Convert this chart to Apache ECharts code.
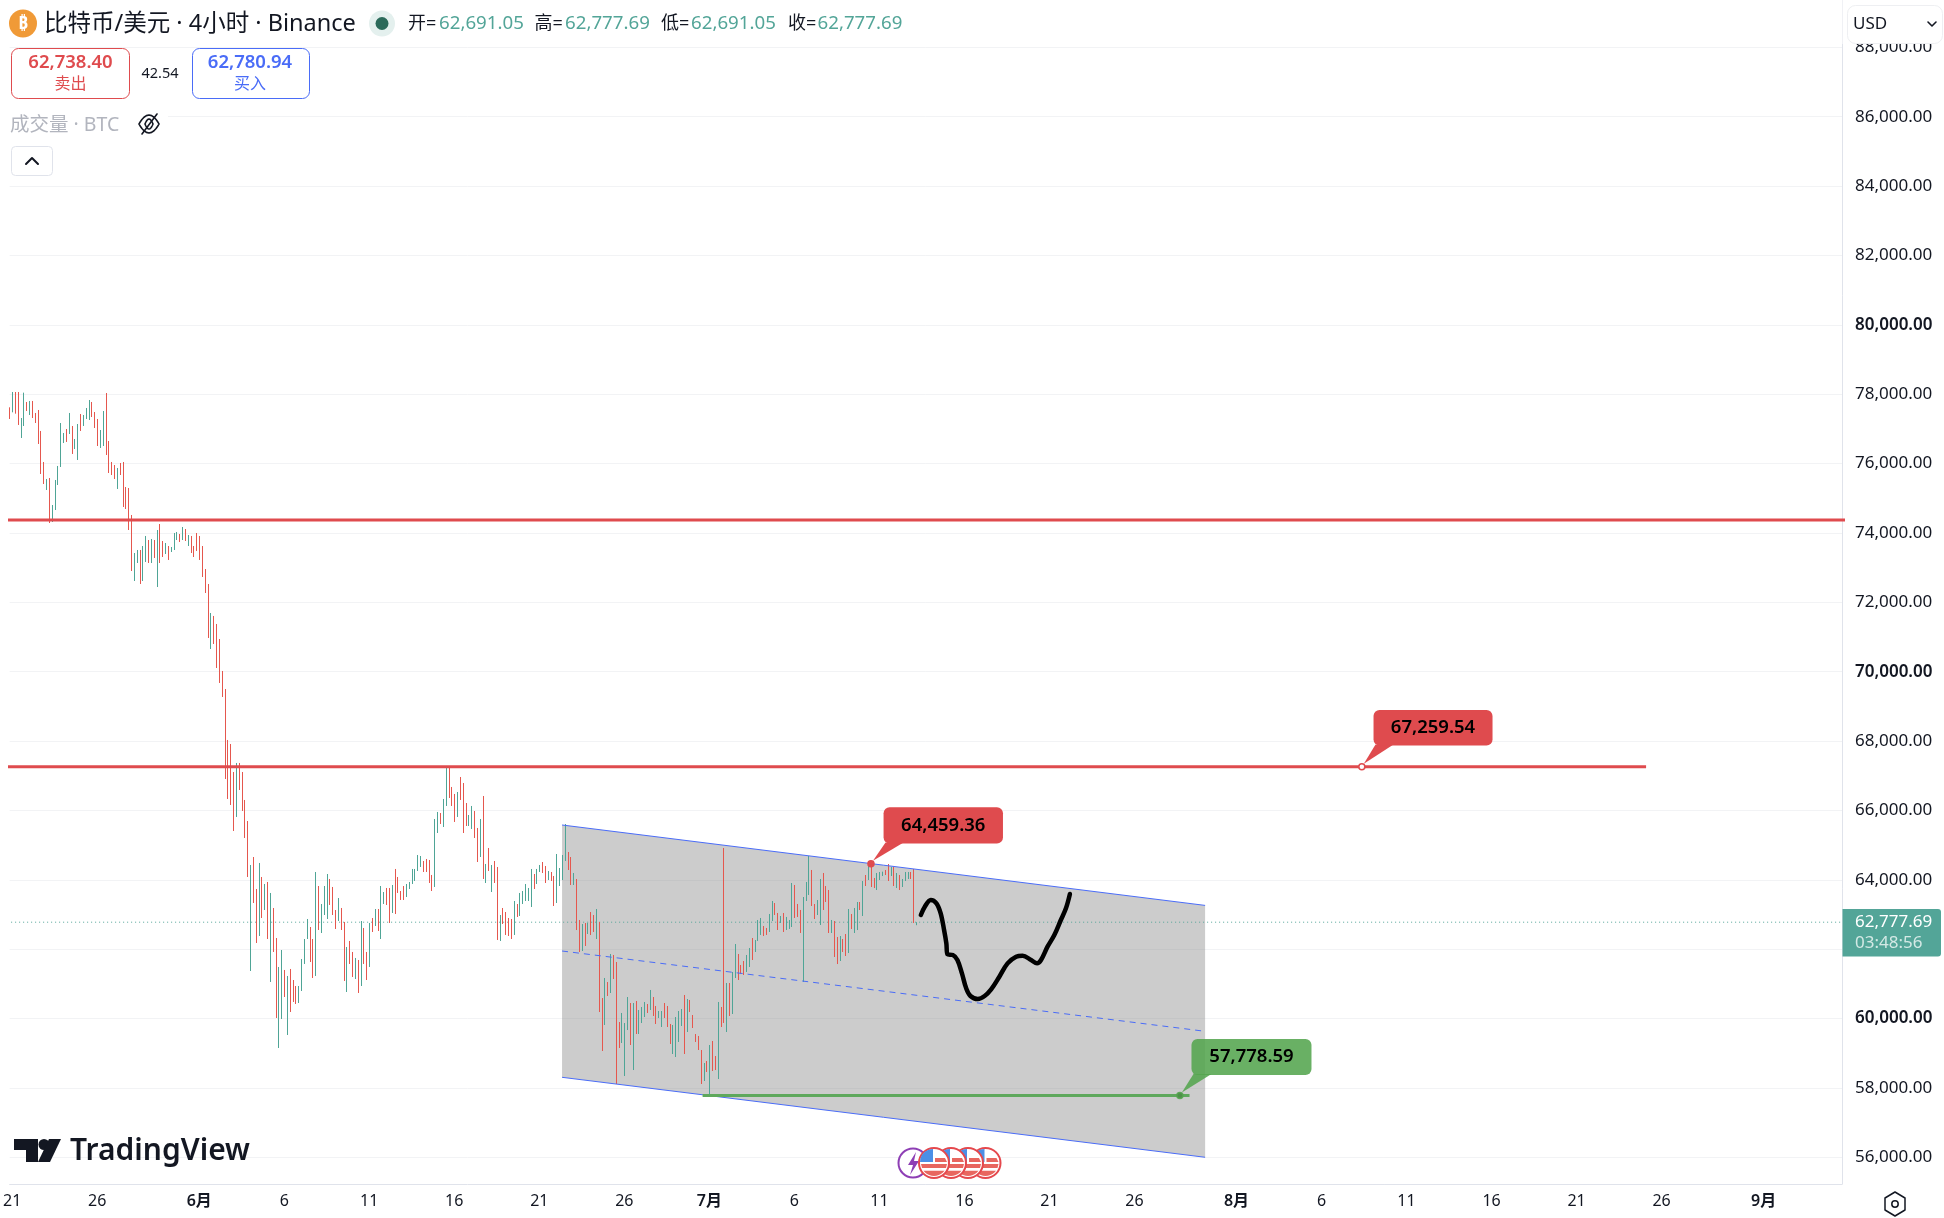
<!DOCTYPE html>
<html><head><meta charset="utf-8">
<style>html,body{margin:0;padding:0;background:#fff}#c{width:1944px;height:1218px}</style>
<script src="https://cdn.jsdelivr.net/npm/echarts@6/dist/echarts.min.js"></script>
</head><body><div id="c"></div>
<script>
// 4-hour bars, left to right
const highs=[77621,78063,78063,78063,77313,78044,77775,77804,77804,77458,77544,76939,76045,75555,75584,74805,75526,75930,77169,76881,76996,77458,77083,76708,77140,77429,77400,77602,77832,77775,77486,77285,76967,77515,78034,76650,76045,75958,75872,76016,76045,75324,75295,74517,73421,73508,73508,73623,73912,73796,73825,73796,74084,74257,73767,73710,73623,73594,73998,74027,73969,74171,74113,73940,73912,73623,73998,73912,73623,72960,72528,
71692,71606,71375,70942,70020,69501,68031,67915,67108,67368,67368,67108,66301,65695,64427,64657,63735,64485,64081,63879,63937,63620,63187,62322,61486,61976,61400,61227,61429,61111,60938,60938,61717,62293,62870,62639,62293,64225,63821,63302,63821,64167,64023,63793,63129,63475,63187,62784,62063,62236,61919,61746,61688,62812,62611,61919,62755,62899,63158,63158,63821,63648,63764,63764,63850,64312,64081,63677,63821,63879,63937,64312,64312,64715,64686,64542,64600,64571,64139,65753,65955,65926,66330,67240,67259,66676,66474,66531,66964,66791,66214,65868,66128,65984,65494,65753,66416,64456,64917,64427,64542,64369,62985,63187,63072,62899,62870,63389,63302,63620,63677,63879,63764,64312,64167,64312,64427,64513,64398,64254,64225,64110,
64744,64340,64715,65608,64801,64657,64196,64023,62841,62725,62754,62754,63071,62985,63158,62783,60592,61169,61053,61861,61832,61630,59900,60160,59871,60621,60448,60448,60506,60246,60333,60477,60419,60823,60621,60362,60217,60217,60448,60362,59843,59814,60044,60217,60275,60679,60563,60535,60102,59554,59497,59093,58718,58776,59237,59353,58920,60477,60333,64917,61025,61025,61342,62149,61861,61544,61659,61832,62034,62322,62264,
62841,62899,62668,62611,63014,63389,63331,63043,62957,63043,62928,62841,63908,63850,63303,63130,63504,63937,64686,64283,63302,63417,64023,64196,63821,63706,62841,62812,62351,62379,62293,62437,63158,63014,63187,63360,63360,63965,64138,64484,64459,64052,64196,64225,64234,64282,64455,64369,64369,64196,64138,64023,64225,64225,64225,64311,62778];
const lows=[77285,77477,77438,77112,76737,77083,77515,77400,77313,77169,76564,75699,75411,75238,74286,74315,74661,75382,75901,76593,76622,76852,76276,76420,76103,76939,77083,77285,77256,77342,77025,76506,76449,76506,76247,75728,75670,75555,75267,75670,74748,74690,74084,72902,72614,73133,72528,72614,73162,73133,73133,73277,72441,73133,73306,73393,73220,73450,73508,73796,73739,73796,73767,73623,73421,73306,73479,73220,72729,72268,70971,
70654,70798,70106,69674,69270,66906,66330,66157,65407,65811,66589,65984,65205,64081,61371,63331,62178,62380,62899,63129,62293,61054,61919,60016,59151,59987,60621,59526,60189,60477,60419,60448,60794,61573,62293,61630,61169,61227,62553,62466,62985,62870,63274,62985,62582,62812,62553,61083,60765,61573,61198,61140,60737,60938,61573,61111,61486,62495,62668,62524,62293,63302,63274,62755,63043,63014,63620,63418,63418,63504,63735,63879,63966,64254,64369,64225,64225,63908,63677,63793,65349,65609,65522,66128,66358,66128,65667,65811,66301,65349,65551,65551,65465,65205,64513,64657,64023,63908,64254,63648,63908,62265,62236,62726,62409,62380,62293,62409,62928,62957,63302,63389,63389,63216,63735,63879,64225,64196,63908,63994,63966,63245,
63331,63821,63994,64542,64282,63850,63850,62552,61918,61947,62091,62437,62408,62495,62293,60188,59064,59814,60650,60736,61140,58113,59151,59295,58343,59669,59237,58516,59554,59554,59871,60044,60160,60246,60073,59843,60016,59756,60016,59756,59266,58978,58891,59324,59785,58978,59612,60189,59727,59324,59093,58113,58199,58459,57779,58488,58516,58257,59756,59872,59612,60073,60131,61169,61111,61284,61255,61342,61486,61688,61918,
62236,62409,62380,62409,62495,62812,62985,62553,62755,62495,62553,62582,62639,62899,62928,62467,61054,63389,63562,63245,62870,62985,62697,63129,63360,62466,62466,61774,61572,61659,61918,61803,61889,62581,62466,62552,63129,62956,63821,63994,63792,63763,63706,63994,64109,64138,63965,64109,63821,63763,63706,63792,63965,64023,64023,62754,62691];
// r = falling bar, g = rising bar
const barSides=("rgrrggrgrr rrrgrggggg rgrggrgggr rrggrrrrgr rrrrggrggr grgrrgrggg rgrgrrrrrr r "+
"grrrrrrrr grrrrgrrgr grgrrggrgr rrggggrrgr gggrrrgrrg rrgrgrrgrg rggrrgrrrr ggggggrrrr ggrggrrrgr rrggrrgrgr grrgrrrrgr gggggrggrr "+
"grrggggrrg rrgrgrrgrr grgrrrgggr grgggrgrrg grrrggggrg rrrrrgrgrr grrgrggrrr ggrgggrrgg rrgrgggrrr gggrrggrrr grrgrrgrgg rgrgrrgggr rgrgrggg rr g").replace(/\s+/g,'').split('');
// overlays, x given in bar numbers
const hiResistance=[[-1,74373],[650,74373]];
const midResistance=[[-1,67259.54],[577.3,67259.54]];
const support=[[244.4,57778.59],[416.2,57778.59]];
const channelTop=[[194.8,65580],[421.7,63262]];
const channelMid=[[194.8,61947],[421.7,59632]];
const channelBottom=[[194.8,58306],[421.7,56000]];
const lastPrice=62777.69;
const sketch=[[321.4,62985],[322.8,63225],[324.9,63417],[326.9,63321],[328.4,63033],[329.6,62552],[330.4,62168],[330.8,61851],[332.7,61832],[334.3,61688],[335.9,61303],[337.4,60871],[338.9,60650],[341.5,60563],[343.9,60650],[346.2,60842],[349.1,61207],[352,61592],[355,61784],[357.3,61813],[360.3,61688],[362.4,61592],[363.8,61688],[366.1,62072],[368.5,62408],[370.8,62841],[372.6,63177],[374,63590]];
const callouts=[[477,67259.54,"67,259.54"],[303.8,64459.36,"64,459.36"],[412.8,57778.59,"57,778.59"]];
const xTickDates=["2026-05-21","2026-05-26","2026-06-01","2026-06-06","2026-06-11","2026-06-16","2026-06-21","2026-06-26","2026-07-01","2026-07-06","2026-07-11","2026-07-16","2026-07-21","2026-07-26","2026-08-01","2026-08-06","2026-08-11","2026-08-16","2026-08-21","2026-08-26","2026-09-01"];
const xTickLabels=["21","26","6月","6","11","16","21","26","7月","6","11","16","21","26","8月","6","11","16","21","26","9月"];
const yTicks=[56000,58000,60000,62000,64000,66000,68000,70000,72000,74000,76000,78000,80000,82000,84000,86000,88000];
const header={open:"62,691.05",high:"62,777.69",low:"62,691.05",close:"62,777.69",sell:"62,738.40",buy:"62,780.94",spread:"42.54"};

const H4=4*3600e3;
const barOfDate=d=>(Date.parse(d+'T00:00:00Z')-Date.UTC(2026,4,26))/H4+30.77;
const xMin=-0.116, xMax=xMin+1842/2.849;
const FONT='"Noto Sans","Noto Sans CJK SC",sans-serif';
const RED='#e5574e',GREEN='#4fa596',TEAL='#53a598',CALLRED='#df4b4e',BLUE='#4a6cf7';
const candles=highs.map((h,i)=>{const l=lows[i];const up=barSides[i]==='g';return [i,up?l:h,up?h:l,l,h];});
const xTickVals=xTickDates.map(barOfDate);
const txMap={};xTickVals.forEach((v,i)=>{txMap[v.toFixed(2)]=xTickLabels[i];});

function lineS(name,data,color,width,z,extra){return Object.assign({type:'line',name,data,symbol:'none',silent:true,animation:false,z,clip:true,lineStyle:{color,width}},extra||{});}

const t=(x,y,text,fill,size,o)=>({type:'text',z:50,silent:true,style:{x,y,text,fill,font:(o&&o.w||'400')+' '+size+'px '+FONT,textAlign:o&&o.a||'left',textVerticalAlign:'middle'}});
const rect=(x,y,w,h,fill,stroke,r)=>({type:'rect',z:48,silent:true,shape:{x,y,width:w,height:h,r:r||0},style:{fill,stroke:stroke||null,lineWidth:1}});
const poly=(pts,fill,z)=>({type:'polygon',z:z||49,silent:true,shape:{points:pts},style:{fill}});
const pline=(pts,stroke,lw,z)=>({type:'polyline',z:z||49,silent:true,shape:{points:pts},style:{fill:null,stroke,lineWidth:lw||1,lineCap:'round',lineJoin:'round'}});
const circ=(cx,cy,r,fill,stroke,lw,z)=>({type:'circle',z:z||49,silent:true,shape:{cx,cy,r},style:{fill,stroke:stroke||null,lineWidth:lw||1}});
function lens(cx,cy,rx,ry){const a=[];for(let k=0;k<=24;k++){const th=k/24*2*Math.PI;a.push([cx+rx*Math.cos(th),cy+ry*Math.sin(th)*Math.abs(Math.sin(th))]);}return a;}

function flag(cx,cy,z){const r=13;const low=[];for(let k=0;k<=10;k++){const a=Math.PI*(0.2+0.6*k/10);low.push([cx+r*Math.cos(a),cy+r*Math.sin(a)]);}
 return [
 circ(cx,cy,15,'#fff','#e5484d',2,z),
 {type:'sector',z:z+0.1,silent:true,shape:{cx:cx-1,cy:cy-1,r0:0,r:r,startAngle:Math.PI,endAngle:1.5*Math.PI},style:{fill:'#4c8fe6'}},
 poly([[cx+1,cy-5],[cx+r-2,cy-5],[cx+r,cy-1],[cx+1,cy-1]],'#e8665f',z+0.1),
 poly([[cx-r,cy+1],[cx+r,cy+1],[cx+r-1,cy+5],[cx-r+1,cy+5]],'#e8665f',z+0.1),
 poly(low,'#e8665f',z+0.1)
];}

const graphicEls=[
 rect(0,108,168,30,'#fff'),
 circ(23,23.5,14,'#f09a37'),
 t(23,24,'₿','#fff',17,{a:'center',w:'700'}),
 t(44,24,'比特币/美元 · 4小时 · Binance','#131722',23.5),
 circ(382,23.5,13,'#e4f0ee'),circ(382,23.5,6.5,'#2b6a5a'),
 t(408,24,'开=','#131722',18),t(439,24,header.open,TEAL,18.7),
 t(534.5,24,'高=','#131722',18),t(565,24,header.high,TEAL,18.7),
 t(661,24,'低=','#131722',18),t(691,24,header.low,TEAL,18.7),
 t(788,24,'收=','#131722',18),t(817.5,24,header.close,TEAL,18.7),
 rect(11.5,48.5,118,50,'#fff',CALLRED,7),
 t(70.5,63,header.sell,CALLRED,18.5,{a:'center',w:'600'}),
 t(70.5,84,'卖出',CALLRED,16,{a:'center'}),
 t(160,74,header.spread,'#131722',14.5,{a:'center'}),
 rect(192.5,48.5,117,50,'#fff',BLUE,7),
 t(250,63,header.buy,BLUE,18.5,{a:'center',w:'600'}),
 t(250,84,'买入',BLUE,16,{a:'center'}),
 t(10,125,'成交量 · BTC','#b2b5be',19.5),
 pline(lens(149,124,10,9),'#131722',1.6),
 pline(lens(149,124,4,5),'#131722',1.6),
 pline([[142,134],[157,114]],'#131722',1.6),
 rect(11.5,146.5,41,29,'#fff','#e0e3eb',4),
 pline([[26,164],[32,158],[38,164]],'#131722',2),
 rect(1842.5,0,101.5,44,'#fff'),
 rect(1847.5,5.5,95,38,'#fff','#eeeff2',8),
 t(1853,24,'USD','#131722',17),
 pline([[1928,22],[1932,26],[1936,22]],'#131722',1.6),
 pline([[1895,1192],[1905,1198],[1905,1210],[1895,1216],[1885,1210],[1885,1198],[1895,1192]],'#131722',1.5),
 circ(1895,1204,3.2,'#fff','#131722',1.5),
 poly([[14,1139],[38,1139],[38,1162],[26,1162],[26,1150],[14,1150]],'#131722'),
 circ(44,1144.5,5.5,'#131722'),
 poly([[49,1139],[61,1139],[50,1162],[38,1162]],'#131722'),
 t(70,1151,'TradingView','#131722',30,{w:'600'}),
 circ(913,1163,14.5,'#fff','#8e3fb5',2,44),
 poly([[916,1152],[908,1165],[913,1165],[910,1175],[919,1161],[914,1161]],'#8e3fb5',44.1)
].concat(flag(985.5,1163,45),flag(968,1163,45.3),flag(951,1163,45.6),flag(934,1163,46));

const option={
 animation:false,
 backgroundColor:'#fff',
 textStyle:{fontFamily:FONT},
 grid:{left:0,top:0,width:1842,height:1184,containLabel:false},
 xAxis:{type:'value',min:xMin,max:xMax,
  axisLine:{show:true,onZero:false,lineStyle:{color:'#e0e3eb',width:1}},
  axisTick:{show:false,customValues:xTickVals},
  splitLine:{show:false},
  axisLabel:{customValues:xTickVals,hideOverlap:false,showMinLabel:true,showMaxLabel:true,margin:9,color:'#131722',fontSize:16,fontFamily:FONT,
   formatter:v=>{const s=txMap[Number(v).toFixed(2)]||'';return s.indexOf('月')>=0?'{m|'+s+'}':s;},
   rich:{m:{fontWeight:600,fontSize:16,color:'#131722',fontFamily:FONT}}}},
 yAxis:{type:'value',position:'right',min:55230,max:89364,
  axisLine:{show:true,onZero:false,lineStyle:{color:'#e0e3eb',width:1}},
  axisTick:{show:false,customValues:yTicks},
  splitLine:{show:true,lineStyle:{color:'#f2f3f5',width:1}},
  axisLabel:{customValues:yTicks,inside:false,margin:13,color:'#131722',fontSize:17,fontFamily:FONT,
   formatter:v=>{const s=Number(v).toLocaleString('en-US',{minimumFractionDigits:2,maximumFractionDigits:2});return v%10000===0?'{b|'+s+'}':s;},
   rich:{b:{fontWeight:600,fontSize:17,color:'#131722',fontFamily:FONT}}}},
 series:[
  {type:'custom',name:'channel',silent:true,z:1,data:channelTop,
   encode:{x:0,y:1},
   renderItem:(p,api)=>{ if(p.dataIndex!==0) return null;
     const q=[channelTop[0],channelTop[1],channelBottom[1],channelBottom[0]].map(a=>api.coord(a));
     return {type:'polygon',shape:{points:q},style:{fill:'rgba(128,128,128,0.4)'}};}},
  {type:'candlestick',name:'BTC/USD',z:3,silent:true,animation:false,barWidth:1,data:candles,
   itemStyle:{color:GREEN,color0:RED,borderColor:GREEN,borderColor0:RED,borderWidth:1}},
  lineS('last',[[-1,lastPrice],[650,lastPrice]],TEAL,1,2,{lineStyle:{color:TEAL,width:1,type:[1,3]}}),
  lineS('r1',hiResistance,CALLRED,3,5),
  lineS('r2',midResistance,CALLRED,3,5),
  lineS('upper',channelTop,BLUE,1,5),
  lineS('mid',channelMid,BLUE,1,5,{lineStyle:{color:BLUE,width:1,type:[6,5]}}),
  lineS('lower',channelBottom,BLUE,1,5),
  lineS('support',support,'#5ea85c',3,6),
  lineS('sketch',sketch,'#000',4.5,7,{smooth:0.35,lineStyle:{color:'#000',width:4.5,cap:'round',join:'round'}}),
  {type:'custom',name:'callouts',silent:true,z:8,clip:false,data:callouts.map(c=>[c[0],c[1]]),encode:{x:0,y:1},
   renderItem:(p,api)=>{
     const c=api.coord([api.value(0),api.value(1)]);
     const lay=[{dx:11.7,dy:-56.8,w:119,h:35.5,fill:CALLRED,dot:'#fff'},{dx:12.6,dy:-56.7,w:119.4,h:36.3,fill:CALLRED,dot:CALLRED},{dx:11.6,dy:-56.6,w:120,h:36,fill:'rgba(84,165,78,0.88)',dot:'#4f8f4a'}][p.dataIndex];
     const bx=c[0]+lay.dx, by=c[1]+lay.dy;
     return {type:'group',children:[
       {type:'polygon',shape:{points:[[c[0]+2,c[1]-3],[bx+2,by+lay.h-1],[bx+20,by+lay.h-1]]},style:{fill:lay.fill}},
       {type:'rect',shape:{x:bx,y:by,width:lay.w,height:lay.h,r:6},style:{fill:lay.fill}},
       {type:'circle',shape:{cx:c[0],cy:c[1],r:3},style:{fill:lay.dot,stroke:lay.fill,lineWidth:1.5}},
       {type:'text',style:{x:bx+lay.w/2,y:by+lay.h/2,text:callouts[p.dataIndex][2],fill:'#000',font:'600 18.5px '+FONT,textAlign:'center',textVerticalAlign:'middle'}}
     ]};}},
  {type:'custom',name:'lastPriceTag',silent:true,z:9,clip:false,data:[[xMax,lastPrice]],encode:{x:0,y:1},
   renderItem:(p,api)=>{
     const c=api.coord([api.value(0),api.value(1)]);
     return {type:'group',children:[
      {type:'rect',shape:{x:c[0]+0.5,y:c[1]-13.2,width:98.5,height:47.5,r:[0,3,3,0]},style:{fill:TEAL}},
      {type:'text',style:{x:c[0]+13,y:c[1],text:'62,777.69',fill:'#fff',font:'400 17px '+FONT,textVerticalAlign:'middle'}},
      {type:'text',style:{x:c[0]+13,y:c[1]+21,text:'03:48:56',fill:'#d4e9e5',font:'400 17px '+FONT,textVerticalAlign:'middle'}}
     ]};}}
 ],
 graphic:{elements:graphicEls}
};
const chart=echarts.init(document.getElementById('c'),null,{renderer:'canvas',width:1944,height:1218});
chart.setOption(option);
</script></body></html>
